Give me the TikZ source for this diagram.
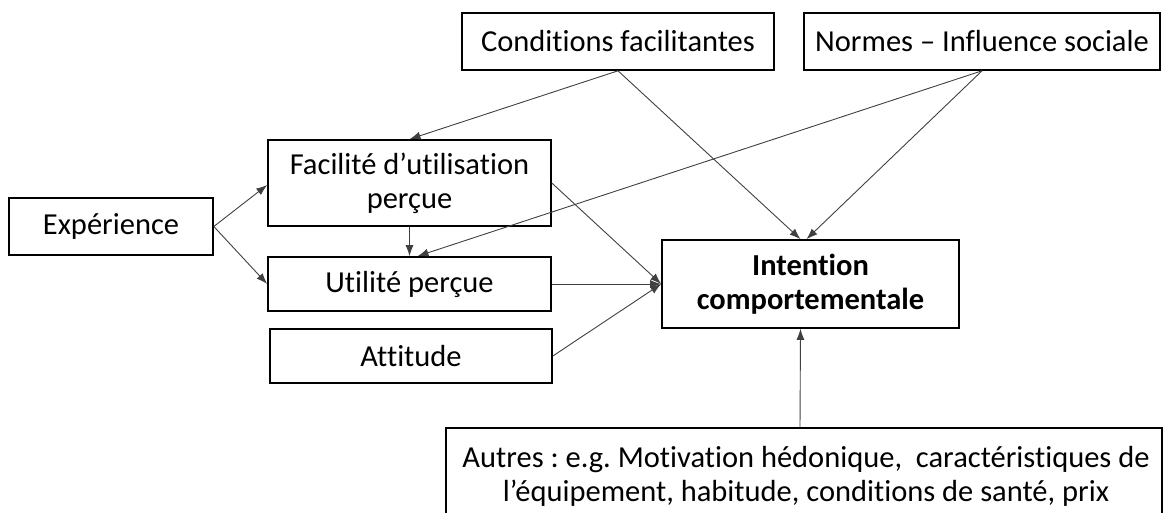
\documentclass[tikz,border=0pt]{standalone}
\usepackage{fontspec}
\setmainfont{Carlito}[Ligatures={NoCommon,NoContextual},Contextuals=NoAlternate]
\usetikzlibrary{arrows.meta,calc}
\begin{document}
\frenchspacing
\begin{tikzpicture}[x=1pt,y=-1pt,
  txt/.style={font=\fontsize{30.5}{34}\selectfont},
  box/.style={draw=black,line width=1.6pt,align=center,inner sep=0pt,txt},
  conn/.style={draw=black!75,line width=0.9pt,-{Latex[length=11pt,width=8pt]}}]
\useasboundingbox (0,0) rectangle (1164,513);
\node[box,minimum width=312pt,minimum height=57pt] (cond) at (618,41.5) {Conditions facilitantes};
\node[box,minimum width=356pt,minimum height=57pt] (norm) at (982,41.5) {Normes – Influence sociale};
\node[box,minimum width=283pt,minimum height=86pt] (fac) at (409.5,183) {Facilité d’utilisation\\perçue};
\node[box,minimum width=204pt,minimum height=57pt] (exp) at (111,226.5) {Expérience};
\node[box,minimum width=283pt,minimum height=54pt] (util) at (409.5,284) {Utilité perçue};
\node[box,minimum width=282pt,minimum height=54pt] (att) at (411,356) {Attitude};
\node[box,minimum width=297pt,minimum height=88pt,font=\fontsize{30.5}{34}\selectfont\bfseries] (int) at (810.5,284) {Intention\\comportementale};
\node[box,minimum width=716pt,minimum height=100pt] (aut) at (804,478) {};
\node[align=center,inner sep=0pt,txt] (auttext) at (806,476) {Autres : e.g. Motivation hédonique,~ caractéristiques de\\l’équipement, habitude, conditions de santé, prix};
\coordinate (intin) at (int.west);
\draw[conn] (cond.south) -- (fac.north);
\draw[conn] (cond.south) -- ($(int.north)+(-10,0)$);
\draw[conn] (norm.south) -- ($(util.north)+(8,0)$);
\draw[conn] (norm.south) -- ($(int.north)+(-4,0)$);
\draw[conn] (exp.east) -- ($(fac.west)+(0,2)$);
\draw[conn] (exp.east) -- (util.west);
\draw[conn] (fac.south) -- (util.north);
\draw[conn] (fac.east) -- (intin);
\draw[conn] (util.east) -- (intin);
\draw[conn] (att.east) -- (intin);
\draw[conn] ($(aut.north)+(-4,0)$) -- ($(int.south)+(-10,0)$);
\end{tikzpicture}
\end{document}
